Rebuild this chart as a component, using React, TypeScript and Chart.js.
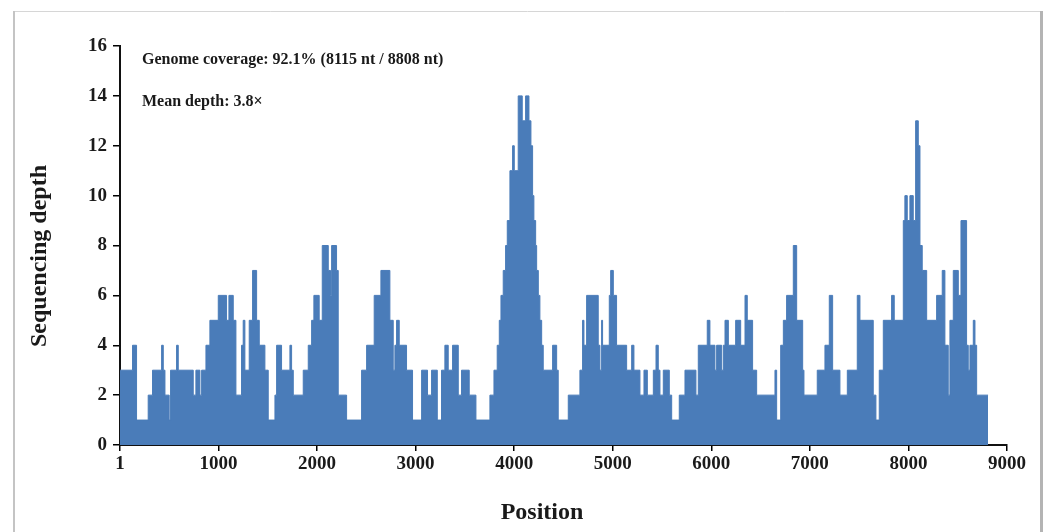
import React, { useEffect, useRef } from "react";
import { Chart, registerables } from "chart.js";

Chart.register(...registerables);

// ---- Data ----
const GENOME_LENGTH = 8808;

// Start position of each constant-depth segment (nt)
const segmentStarts = [
  1, 128, 169, 287, 331, 423, 440, 457, 500, 514,
  575, 592, 744, 771, 812, 829, 873, 913, 998, 1082,
  1106, 1150, 1177, 1234, 1251, 1268, 1312, 1346, 1387, 1414,
  1471, 1505, 1573, 1590, 1640, 1725, 1742, 1759, 1860, 1911,
  1945, 1968, 2022, 2053, 2114, 2137, 2148, 2198, 2215, 2300,
  2452, 2503, 2580, 2648, 2739, 2773, 2790, 2807, 2834, 2908,
  2969, 3061, 3121, 3162, 3220, 3263, 3297, 3331, 3375, 3433,
  3466, 3544, 3612, 3754, 3795, 3828, 3849, 3866, 3889, 3913,
  3930, 3957, 3984, 4001, 4041, 4082, 4116, 4150, 4170, 4187,
  4200, 4218, 4228, 4245, 4261, 4279, 4295, 4390, 4431, 4447,
  4549,
  4667, 4694, 4708, 4735, 4853, 4870, 4887, 4897, 4965, 4979,
  5006, 5039, 5141, 5192, 5215, 5276, 5317, 5351, 5412, 5439,
  5462, 5479, 5513, 5574, 5598, 5675, 5733, 5844, 5868, 5959,
  5986, 6037, 6054, 6105, 6122, 6139, 6173, 6247, 6298, 6342,
  6365, 6419, 6460, 6646, 6663, 6704, 6731, 6764,
  6832, 6866, 6927, 6940, 7075, 7153, 7197, 7231, 7305, 7380,
  7481, 7508, 7643, 7670, 7704, 7745, 7829, 7856, 7948, 7964,
  7988, 8015, 8049, 8073, 8100, 8117, 8140, 8185, 8286, 8343,
  8370, 8404, 8421, 8455, 8506, 8533, 8590, 8607, 8624, 8658,
  8675, 8692,
];

// Sequencing depth of each segment
const segmentDepths = [
  3, 4, 1, 2, 3, 4, 3, 2, 1, 3,
  4, 3, 2, 3, 2, 3, 4, 5, 6, 5,
  6, 5, 2, 4, 5, 3, 5, 7, 5, 4,
  3, 1, 2, 4, 3, 4, 3, 2, 3, 4,
  5, 6, 5, 8, 7, 6, 8, 7, 2, 1,
  3, 4, 6, 7, 5, 3, 4, 5, 4, 3,
  1, 3, 2, 3, 1, 3, 4, 3, 4, 2,
  3, 2, 1, 2, 3, 4, 5, 6, 7, 8,
  9, 11, 12, 11, 14, 13, 14, 13, 12, 10,
  9, 8, 7, 6, 5, 4, 3, 4, 3, 1,
  2,
  3, 5, 4, 6, 4, 3, 5, 4, 6, 7,
  6, 4, 3, 4, 3, 2, 3, 2, 3, 4,
  3, 2, 3, 2, 1, 2, 3, 2, 4, 5,
  4, 3, 4, 3, 4, 5, 4, 5, 4, 6,
  5, 3, 2, 3, 1, 4, 5, 6,
  8, 5, 3, 2, 3, 4, 6, 3, 2, 3,
  6, 5, 2, 1, 3, 5, 6, 5, 9, 10,
  9, 10, 9, 13, 12, 8, 7, 5, 6, 7,
  4, 2, 5, 7, 6, 9, 4, 3, 4, 5,
  4, 2,
];

const xTickValues = [1, 1000, 2000, 3000, 4000, 5000, 6000, 7000, 8000, 9000];
const yTickValues = [0, 2, 4, 6, 8, 10, 12, 14, 16];

const coverageText = "Genome coverage: 92.1% (8115 nt / 8808 nt)";
const meanDepthText = "Mean depth: 3.8×";
const xTitle = "Position";
const yTitle = "Sequencing depth";

// ---- Styles ----
const FILL = "#4A7CB9";
const SERIF = '"Liberation Serif", "DejaVu Serif", serif';
const TEXT = "#1a1a1a";

const decorPlugin = {
  id: "decor",
  beforeDraw(chart: any) {
    const ctx = chart.ctx;
    ctx.save();
    ctx.fillStyle = "#ffffff";
    ctx.fillRect(0, 0, chart.width, chart.height);
    // frame
    ctx.strokeStyle = "#d6d6d6";
    ctx.lineWidth = 1;
    ctx.beginPath();
    ctx.moveTo(14, 11.5);
    ctx.lineTo(1041, 11.5);
    ctx.stroke();
    ctx.strokeStyle = "#c4c4c4";
    ctx.lineWidth = 2;
    ctx.beginPath();
    ctx.moveTo(14, 11);
    ctx.lineTo(14, chart.height);
    ctx.stroke();
    ctx.strokeStyle = "#b4b4b4";
    ctx.lineWidth = 3;
    ctx.beginPath();
    ctx.moveTo(1041.5, 11);
    ctx.lineTo(1041.5, chart.height);
    ctx.stroke();
    ctx.restore();
  },
  afterDraw(chart: any) {
    const ctx = chart.ctx;
    ctx.save();
    ctx.fillStyle = TEXT;
    ctx.textBaseline = "alphabetic";
    ctx.textAlign = "left";
    ctx.font = `bold 16px ${SERIF}`;
    ctx.fillText(coverageText, 142, 64);
    ctx.fillText(meanDepthText, 142, 106);

    ctx.font = `bold 24px ${SERIF}`;
    ctx.textAlign = "center";
    ctx.fillText(xTitle, 542, 519);

    ctx.translate(46, 256);
    ctx.rotate(-Math.PI / 2);
    ctx.fillText(yTitle, 0, 0);
    ctx.restore();
  },
};

export default function App() {
  const canvasRef = useRef<HTMLCanvasElement | null>(null);

  useEffect(() => {
    if (!canvasRef.current) return;
    const points = segmentStarts.map((s, i) => ({ x: s, y: segmentDepths[i] }));
    points.push({ x: GENOME_LENGTH, y: segmentDepths[segmentDepths.length - 1] });

    const tickFont = { family: SERIF, weight: "bold" as const, size: 19 };

    const chart = new Chart(canvasRef.current, {
      type: "line",
      data: {
        datasets: [
          {
            data: points,
            stepped: true,
            fill: "origin",
            backgroundColor: FILL,
            borderColor: FILL,
            borderWidth: 1,
            pointRadius: 0,
            pointHoverRadius: 0,
          },
        ],
      },
      options: {
        responsive: false,
        animation: false,
        parsing: false,
        layout: { padding: { left: 0, top: 46, right: 41, bottom: 0 } },
        plugins: {
          legend: { display: false },
          tooltip: { enabled: false },
          title: { display: false },
        },
        scales: {
          x: {
            type: "linear",
            min: 1,
            max: 9000,
            afterBuildTicks: (s: any) => {
              s.ticks = xTickValues.map((v) => ({ value: v }));
            },
            afterFit: (s: any) => {
              s.height = 87;
            },
            ticks: {
              autoSkip: false,
              maxRotation: 0,
              minRotation: 0,
              font: tickFont,
              color: TEXT,
              padding: 2,
              callback: (v: any) => String(v),
            },
            grid: {
              drawOnChartArea: false,
              drawTicks: true,
              tickLength: 6,
              color: "#000",
              lineWidth: 1.5,
            },
            border: { display: true, color: "#111", width: 2 },
          },
          y: {
            type: "linear",
            min: 0,
            max: 16,
            afterBuildTicks: (s: any) => {
              s.ticks = yTickValues.map((v) => ({ value: v }));
            },
            afterFit: (s: any) => {
              s.width = 120;
            },
            ticks: {
              font: tickFont,
              color: TEXT,
              padding: 6,
              callback: (v: any) => String(v),
            },
            grid: {
              drawOnChartArea: false,
              drawTicks: true,
              tickLength: 7,
              color: "#000",
              lineWidth: 1.5,
            },
            border: { display: true, color: "#111", width: 2 },
          },
        },
      },
      plugins: [decorPlugin],
    });

    return () => chart.destroy();
  }, []);

  return (
    <div style={{ position: "absolute", left: 0, top: 0, width: 1048, height: 532, background: "#fff" }}>
      <canvas ref={canvasRef} width={1048} height={532} style={{ display: "block" }} />
    </div>
  );
}
